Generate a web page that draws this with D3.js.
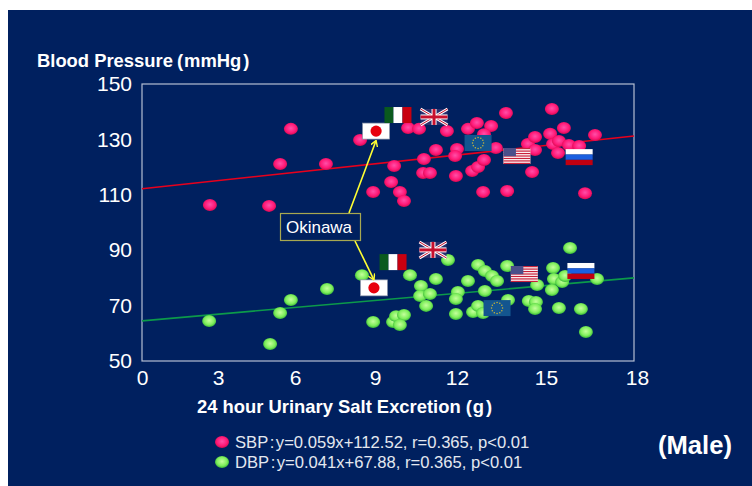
<!DOCTYPE html>
<html><head><meta charset="utf-8">
<script src="https://cdn.jsdelivr.net/npm/d3@7/dist/d3.min.js"></script>
<style>html,body{margin:0;padding:0;background:#fff}svg{display:block}text{font-family:"Liberation Sans",Arial,sans-serif;fill:#fff}</style>
</head><body><svg id="c" width="752" height="486"></svg>
<script>
const xTicks = [0,3,6,9,12,15,18];
const yTicks = [50,70,90,110,130,150];
const sbpX = [2.68,4.99,5.42,5.84,7.16,8.44,8.93,9.59,9.91,10.06,9.70,10.21,10.61,10.79,10.76,11.01,11.23,11.63,12.00,11.93,11.96,12.37,12.67,13.15,12.91,13.31,12.51,12.71,12.91,12.88,13.65,13.69,14.39,14.63,14.63,14.53,15.14,15.24,15.44,15.41,15.20,15.61,15.78,16.13,16.67,16.33];
const sbpY = [106.3,106.0,121.1,133.8,121.1,129.8,111.0,114.6,111.0,107.8,120.4,134.1,133.8,122.9,117.9,117.9,126.2,133.0,126.5,124.0,116.8,133.8,135.9,134.8,131.9,126.9,118.6,120.0,122.6,111.0,139.5,111.4,128.3,130.9,126.2,118.2,132.0,128.3,129.4,125.1,141.0,134.1,128.0,127.6,131.6,110.6];
const dbpX = [2.65,5.03,5.42,5.84,7.20,8.51,8.93,9.66,9.77,10.06,9.91,10.28,10.68,10.65,11.01,10.87,11.23,11.67,12.03,11.96,11.96,12.37,12.71,12.94,13.18,13.35,12.94,12.54,12.71,12.88,13.72,13.69,14.42,14.66,14.63,14.70,15.24,15.27,15.20,15.55,15.65,15.82,15.44,16.19,16.36,16.74];
const dbpY = [64.4,56.1,67.3,72.0,76.0,81.0,64.1,64.1,66.2,66.6,63.0,81.0,77.1,73.5,74.2,69.9,79.6,86.5,74.9,72.4,67.0,78.9,84.7,82.5,80.7,78.9,75.3,67.7,69.9,67.3,72.0,84.3,71.7,71.3,68.8,77.4,83.6,79.6,75.6,78.5,80.7,90.8,69.1,68.8,60.5,79.6];
const sbpLine = [[0,112.2],[18,131.2]];
const dbpLine = [[0,64.5],[18,80.0]];
const flagNames = ["japan","italy","uk","eu","us","russia"];
const sbpFlagX = [9.04,9.84,11.16,12.71,14.02,16.13];
const sbpFlagY = [133.0,138.8,138.1,128.7,124.0,123.6];
const dbpFlagX = [8.96,9.66,11.12,13.35,14.27,16.19];
const dbpFlagY = [76.4,85.7,90.1,69.1,81.4,82.5];
const legendNames = ["SBP","DBP"];
const legendEquations = ["y=0.059x+112.52, r=0.365, p<0.01","y=0.041x+67.88, r=0.365, p<0.01"];

const svg = d3.select("#c");
const navy = "#00205f";
svg.append("rect").attr("x",8).attr("y",10).attr("width",744).attr("height",476).attr("fill",navy);

const defs = svg.append("defs");
function grad(id,c0,c1,c2){
  const g=defs.append("radialGradient").attr("id",id).attr("cx","50%").attr("cy","45%").attr("r","55%");
  g.append("stop").attr("offset","0%").attr("stop-color",c0);
  g.append("stop").attr("offset","65%").attr("stop-color",c1);
  g.append("stop").attr("offset","100%").attr("stop-color",c2);
}
grad("gP","#ff4fa8","#ff1a78","#d80a50");
grad("gG","#c4ff9c","#7fee5c","#38b838");
defs.append("marker").attr("id","arw").attr("viewBox","0 0 10 10").attr("refX",9).attr("refY",5)
  .attr("markerWidth",7).attr("markerHeight",7).attr("markerUnits","userSpaceOnUse").attr("orient","auto")
  .append("path").attr("d","M1,0L9,5L1,10").attr("fill","none").attr("stroke","#ffff33").attr("stroke-width",2);

const x = d3.scaleLinear().domain(xTicks).range([142,218,295,375,457,546,634]);
const y = d3.scaleLinear().domain([50,150]).range([361,84]);

svg.append("rect").attr("x",142).attr("y",84).attr("width",492).attr("height",277)
  .attr("fill","none").attr("stroke","#b4bfd2").attr("stroke-width",1.2);

const ax = svg.append("g").attr("transform","translate(0,361)")
  .call(d3.axisBottom(x).tickValues(xTicks).tickSize(0).tickPadding(9));
ax.select(".domain").remove();
ax.selectAll("text").style("font-size","21px").attr("fill","#fff");
ax.selectAll("text").filter(d=>d===18).attr("dx",3);
const ay = svg.append("g").attr("transform","translate(142,0)")
  .call(d3.axisLeft(y).tickValues(yTicks).tickSize(0).tickPadding(10));
ay.select(".domain").remove();
ay.selectAll("text").style("font-size","21px").attr("fill","#fff");

const line = d3.line().x(d=>x(d[0])).y(d=>y(d[1]));
svg.append("path").attr("d",line(sbpLine)).attr("stroke","#e8001c").attr("stroke-width",1.6).attr("fill","none");
svg.append("path").attr("d",line(dbpLine)).attr("stroke","#0c9a4a").attr("stroke-width",1.6).attr("fill","none");

svg.append("g").selectAll("ellipse").data(d3.range(sbpX.length)).join("ellipse")
  .attr("cx",i=>x(sbpX[i])).attr("cy",i=>y(sbpY[i])).attr("rx",7).attr("ry",6).attr("fill","url(#gP)");
svg.append("g").selectAll("ellipse").data(d3.range(dbpX.length)).join("ellipse")
  .attr("cx",i=>x(dbpX[i])).attr("cy",i=>y(dbpY[i])).attr("rx",7).attr("ry",6).attr("fill","url(#gG)");

function flag(name,cx,cy){
  const W=27,H=16,g=svg.append("g").attr("transform",`translate(${cx-W/2},${cy-H/2})`);
  const r=(a,b,w,h,f)=>g.append("rect").attr("x",a).attr("y",b).attr("width",w).attr("height",h).attr("fill",f);
  if(name==="japan"){r(0,0,W,H,"#fff").attr("stroke","#8a94a8").attr("stroke-width",.7);
    g.append("circle").attr("cx",W/2).attr("cy",H/2).attr("r",5.6).attr("fill","#e8000d");}
  if(name==="italy"){r(0,0,9,H,"#0a5a1e");r(9,0,9,H,"#fff");r(18,0,9,H,"#c8000f");}
  if(name==="russia"){r(0,0,W,5.4,"#fff");r(0,5.4,W,5.3,"#1a5fe0");r(0,10.7,W,5.3,"#c00010");}
  if(name==="uk"){r(0,0,W,H,"#2a2f6e");
    const l=(a,b,c,d,s,w)=>g.append("line").attr("x1",a).attr("y1",b).attr("x2",c).attr("y2",d).attr("stroke",s).attr("stroke-width",w);
    l(0,0,W,H,"#fff",3);l(W,0,0,H,"#fff",3);l(0,0,W,H,"#c8102e",1);l(W,0,0,H,"#c8102e",1);
    l(W/2,0,W/2,H,"#fff",5);l(0,H/2,W,H/2,"#fff",5);l(W/2,0,W/2,H,"#c8102e",3);l(0,H/2,W,H/2,"#c8102e",3);}
  if(name==="us"){r(0,0,W,H,"#fff");
    d3.range(0,7).forEach(k=>r(0,k*2.46,W,1.23,"#c8203a"));
    r(0,0,12.5,8.2,"#4a4f8a");}
  if(name==="eu"){r(0,0,W,H,"#13558f");
    d3.range(12).forEach(k=>{const a=k*Math.PI/6;
      g.append("circle").attr("cx",W/2+5.5*Math.cos(a)).attr("cy",H/2+5.5*Math.sin(a)).attr("r",.75).attr("fill","#c9b53a");});}
}
flagNames.forEach((n,i)=>flag(n,x(sbpFlagX[i]),y(sbpFlagY[i])));
flagNames.forEach((n,i)=>flag(n,x(dbpFlagX[i]),y(dbpFlagY[i])));

const boxG = svg.append("g");
boxG.append("line").attr("x1",349).attr("y1",213).attr("x2",x(sbpFlagX[0])).attr("y2",y(sbpFlagY[0])+9.5)
  .attr("stroke","#ffff33").attr("stroke-width",1.6).attr("marker-end","url(#arw)");
boxG.append("line").attr("x1",355).attr("y1",241).attr("x2",x(dbpFlagX[0])).attr("y2",y(dbpFlagY[0])-8)
  .attr("stroke","#ffff33").attr("stroke-width",1.6).attr("marker-end","url(#arw)");
boxG.append("rect").attr("x",280.5).attr("y",213.5).attr("width",80).attr("height",27)
  .attr("fill",navy).attr("stroke","#a8a850").attr("stroke-width",1.2);
boxG.append("text").attr("x",319).attr("y",233).attr("text-anchor","middle").style("font-size","17px").text("Okinawa");

function boldTitle(px,py,main,unit,dxOpen,dxUnit,dxClose){
  const t=svg.append("text").attr("x",px).attr("y",py).style("font-size","18.4px").style("font-weight","700");
  t.append("tspan").text(main);
  t.append("tspan").attr("dx",dxOpen).text("(");
  t.append("tspan").attr("dx",dxUnit).text(unit);
  t.append("tspan").attr("dx",dxClose).text(")");
}
boldTitle(37,67,"Blood Pressure","mmHg",4,1,2);
boldTitle(197,413,"24 hour Urinary Salt Excretion","g",5,1,2);

const leg = svg.append("g").selectAll("g").data(legendNames).join("g");
leg.append("ellipse").attr("cx",222).attr("cy",(d,i)=>442+i*20).attr("rx",7).attr("ry",6).attr("fill",(d,i)=>i?"url(#gG)":"url(#gP)");
const legT = leg.append("text").attr("x",235).attr("y",(d,i)=>448+i*20).style("font-size","16.6px").style("fill","#e4e8f0");
legT.append("tspan").text(d=>d);
legT.append("tspan").attr("dx",1.5).text(":");
legT.append("tspan").attr("dx",1.5).text((d,i)=>legendEquations[i]);
svg.append("text").attr("x",658).attr("y",454).style("font-size","25.6px").style("font-weight","700").text("(Male)");
</script></body></html>
